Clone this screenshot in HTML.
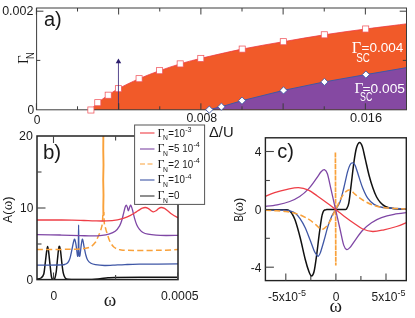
<!DOCTYPE html><html><head><meta charset="utf-8"><title>Figure</title>
<style>html,body{margin:0;padding:0;background:#fff;overflow:hidden}svg{display:block;will-change:transform}text{font-family:"Liberation Sans", sans-serif}.s{font-family:"Liberation Serif", serif}</style></head><body>
<svg width="415" height="318" viewBox="0 0 415 318" fill="#1a1a1a">
<rect width="415" height="318" fill="#fff"/>
<path d="M90.90 110.00 C92.05 108.78 94.92 105.17 97.80 102.70 C100.68 100.23 104.77 97.53 108.20 95.20 C111.63 92.87 113.25 91.45 118.40 88.70 C123.55 85.95 132.23 81.70 139.10 78.70 C145.97 75.70 152.75 73.17 159.60 70.70 C166.45 68.23 173.33 65.95 180.20 63.90 C187.07 61.85 190.47 60.87 200.80 58.40 C211.13 55.93 228.45 51.88 242.20 49.10 C255.95 46.32 269.62 44.08 283.30 41.70 C296.98 39.32 310.57 36.92 324.30 34.80 C338.03 32.68 351.95 30.83 365.70 29.00 C379.45 27.17 399.95 24.67 406.80 23.80 L406.50 109.80 Z" fill="#f15a29"/>
<path d="M90.90 110.00 C92.05 108.78 94.92 105.17 97.80 102.70 C100.68 100.23 104.77 97.53 108.20 95.20 C111.63 92.87 113.25 91.45 118.40 88.70 C123.55 85.95 132.23 81.70 139.10 78.70 C145.97 75.70 152.75 73.17 159.60 70.70 C166.45 68.23 173.33 65.95 180.20 63.90 C187.07 61.85 190.47 60.87 200.80 58.40 C211.13 55.93 228.45 51.88 242.20 49.10 C255.95 46.32 269.62 44.08 283.30 41.70 C296.98 39.32 310.57 36.92 324.30 34.80 C338.03 32.68 351.95 30.83 365.70 29.00 C379.45 27.17 399.95 24.67 406.80 23.80" fill="none" stroke="#ee3a43" stroke-width="0.8"/>
<path d="M209.30 109.60 L221.40 106.70 L242.00 100.70 L283.50 90.40 L324.40 81.90 L365.90 74.60 L406.80 67.60 L406.50 109.80 Z" fill="#8549a2"/>
<path d="M209.30 109.60 L221.40 106.70 L242.00 100.70 L283.50 90.40 L324.40 81.90 L365.90 74.60 L406.80 67.60" fill="none" stroke="#3f57a6" stroke-width="1"/>
<g stroke="#3c3c3c" stroke-width="1" fill="none">
<rect x="36.60" y="8.00" width="369.90" height="101.80"/>
<path d="M36.40 8.00 v6.50 M36.40 109.80 v-6.50"/>
<path d="M77.52 8.00 v3.50 M77.52 109.80 v-3.50"/>
<path d="M118.64 8.00 v6.50 M118.64 109.80 v-6.50"/>
<path d="M159.76 8.00 v3.50 M159.76 109.80 v-3.50"/>
<path d="M200.88 8.00 v6.50 M200.88 109.80 v-6.50"/>
<path d="M242.00 8.00 v3.50 M242.00 109.80 v-3.50"/>
<path d="M283.12 8.00 v6.50 M283.12 109.80 v-6.50"/>
<path d="M324.24 8.00 v3.50 M324.24 109.80 v-3.50"/>
<path d="M365.36 8.00 v6.50 M365.36 109.80 v-6.50"/>
<path d="M36.60 11.20 h6.80 M406.50 11.20 h-6.80"/>
<path d="M36.60 60.40 h3.70 M406.50 60.40 h-3.70"/>
</g>
<rect x="87.85" y="106.95" width="6.1" height="6.1" fill="#fff" stroke="#f0535a" stroke-width="0.75"/>
<rect x="94.75" y="99.65" width="6.1" height="6.1" fill="#fff" stroke="#f0535a" stroke-width="0.75"/>
<rect x="105.15" y="92.15" width="6.1" height="6.1" fill="#fff" stroke="#f0535a" stroke-width="0.75"/>
<rect x="115.35" y="85.65" width="6.1" height="6.1" fill="#fff" stroke="#f0535a" stroke-width="0.75"/>
<rect x="136.05" y="75.65" width="6.1" height="6.1" fill="#fff" stroke="#f0535a" stroke-width="0.75"/>
<rect x="156.55" y="67.65" width="6.1" height="6.1" fill="#fff" stroke="#f0535a" stroke-width="0.75"/>
<rect x="177.15" y="60.85" width="6.1" height="6.1" fill="#fff" stroke="#f0535a" stroke-width="0.75"/>
<rect x="197.75" y="55.35" width="6.1" height="6.1" fill="#fff" stroke="#f0535a" stroke-width="0.75"/>
<rect x="239.15" y="46.05" width="6.1" height="6.1" fill="#fff" stroke="#f0535a" stroke-width="0.75"/>
<rect x="280.25" y="38.65" width="6.1" height="6.1" fill="#fff" stroke="#f0535a" stroke-width="0.75"/>
<rect x="321.25" y="31.75" width="6.1" height="6.1" fill="#fff" stroke="#f0535a" stroke-width="0.75"/>
<rect x="362.65" y="25.95" width="6.1" height="6.1" fill="#fff" stroke="#f0535a" stroke-width="0.75"/>
<path d="M205.70 109.60 l3.60 -3.60 l3.60 3.60 l-3.60 3.60 Z" fill="#fff" stroke="#3f57a6" stroke-width="0.9"/>
<path d="M217.80 106.70 l3.60 -3.60 l3.60 3.60 l-3.60 3.60 Z" fill="#fff" stroke="#3f57a6" stroke-width="0.9"/>
<path d="M238.40 100.70 l3.60 -3.60 l3.60 3.60 l-3.60 3.60 Z" fill="#fff" stroke="#3f57a6" stroke-width="0.9"/>
<path d="M279.90 90.40 l3.60 -3.60 l3.60 3.60 l-3.60 3.60 Z" fill="#fff" stroke="#3f57a6" stroke-width="0.9"/>
<path d="M320.80 81.90 l3.60 -3.60 l3.60 3.60 l-3.60 3.60 Z" fill="#fff" stroke="#3f57a6" stroke-width="0.9"/>
<path d="M362.30 74.60 l3.60 -3.60 l3.60 3.60 l-3.60 3.60 Z" fill="#fff" stroke="#3f57a6" stroke-width="0.9"/>
<path d="M118.45 109.6 V62" stroke="#3a2a7c" stroke-width="0.85" fill="none"/>
<path d="M118.45 58.4 L121.2 63.2 L115.7 63.2 Z" fill="#2e1f6e"/>
<path d="M118.64 109.8 v-6.5" stroke="#3c3c3c" stroke-width="1"/>
<text x="33.40" y="14.70" font-size="12" text-anchor="end" textLength="31.2" lengthAdjust="spacingAndGlyphs">0.002</text>
<text x="34.20" y="113.50" font-size="12" text-anchor="end">0</text>
<text x="37.00" y="123.60" font-size="12" text-anchor="middle">0</text>
<text x="201.80" y="121.70" font-size="12" text-anchor="middle" textLength="30.8" lengthAdjust="spacingAndGlyphs">0.008</text>
<text x="366.00" y="122.30" font-size="12" text-anchor="middle" textLength="32" lengthAdjust="spacingAndGlyphs">0.016</text>
<text x="209.00" y="137.00" font-size="15.3" text-anchor="start" textLength="24.6" lengthAdjust="spacingAndGlyphs">Δ/U</text>
<text x="43.90" y="26.40" font-size="20" text-anchor="start">a)</text>
<g transform="translate(27.8,63.9) rotate(-90)"><text x="0" y="0" font-size="15" class="s">Γ</text><text x="5.0" y="6.3" font-size="11.8" textLength="6.8" lengthAdjust="spacingAndGlyphs">N</text></g>
<g fill="#fff"><text x="351.80" y="53.40" font-size="16.3" class="s" fill="#fff">Γ</text><text x="356.30" y="61.50" font-size="12" fill="#fff" textLength="13.6" lengthAdjust="spacingAndGlyphs">SC</text><text x="361.60" y="51.90" font-size="12.3" fill="#fff" textLength="41.8" lengthAdjust="spacingAndGlyphs">=0.004</text></g>
<g fill="#fff"><text x="354.40" y="93.00" font-size="15.3" class="s" fill="#fff">Γ</text><text x="360.10" y="101.00" font-size="12" fill="#fff" textLength="12.2" lengthAdjust="spacingAndGlyphs">SC</text><text x="362.60" y="92.50" font-size="12.3" fill="#fff" textLength="42.4" lengthAdjust="spacingAndGlyphs">=0.005</text></g>
<clipPath id="cb"><rect x="37.00" y="136.00" width="141.00" height="143.60"/></clipPath>
<g clip-path="url(#cb)" fill="none" stroke-width="1.3" stroke-linejoin="round">
<path d="M37.00 279.00 C37.67 278.83 39.88 278.78 41.00 278.00 C42.12 277.22 43.00 276.73 43.70 274.30 C44.40 271.87 44.73 267.05 45.20 263.40 C45.67 259.75 46.10 255.23 46.50 252.40 C46.90 249.57 47.23 246.40 47.60 246.40 C47.97 246.40 48.28 249.22 48.70 252.40 C49.12 255.58 49.65 261.48 50.10 265.50 C50.55 269.52 51.00 274.22 51.40 276.50 C51.80 278.78 52.13 278.72 52.50 279.20 C52.87 279.68 53.23 279.48 53.60 279.40 C53.97 279.32 54.27 279.93 54.70 278.70 C55.13 277.47 55.73 275.28 56.20 272.00 C56.67 268.72 57.10 262.83 57.50 259.00 C57.90 255.17 58.27 251.10 58.60 249.00 C58.93 246.90 59.17 246.02 59.50 246.40 C59.83 246.78 60.20 248.47 60.60 251.30 C61.00 254.13 61.45 259.75 61.90 263.40 C62.35 267.05 62.78 270.83 63.30 273.20 C63.82 275.57 64.23 276.60 65.00 277.60 C65.77 278.60 65.40 278.88 67.90 279.20 C70.40 279.52 75.98 279.47 80.00 279.50 C84.02 279.53 88.67 279.53 92.00 279.40 C95.33 279.27 97.33 278.97 100.00 278.70 C102.67 278.43 105.50 278.02 108.00 277.80 C110.50 277.58 109.67 277.48 115.00 277.40 C120.33 277.32 129.50 277.32 140.00 277.30 C150.50 277.28 171.67 277.30 178.00 277.30" stroke="#111" stroke-width="1.5"/>
<path d="M37.00 265.10 C39.17 265.10 46.50 265.12 50.00 265.10 C53.50 265.08 55.93 265.05 58.00 265.00 C60.07 264.95 61.30 264.88 62.40 264.80 C63.50 264.72 63.87 264.70 64.60 264.50 C65.33 264.30 66.15 264.08 66.80 263.60 C67.45 263.12 67.95 262.55 68.50 261.60 C69.05 260.65 69.55 259.80 70.10 257.90 C70.65 256.00 71.25 252.77 71.80 250.20 C72.35 247.63 72.92 244.33 73.40 242.50 C73.88 240.67 74.27 238.83 74.70 239.20 C75.13 239.57 75.57 242.13 76.00 244.70 C76.43 247.27 76.98 252.73 77.30 254.60 C77.62 256.47 77.73 256.67 77.90 255.90 C78.07 255.13 78.18 255.15 78.30 250.00 C78.42 244.85 78.50 225.00 78.60 225.00 C78.70 225.00 78.77 244.85 78.90 250.00 C79.03 255.15 79.20 255.13 79.40 255.90 C79.60 256.67 79.78 256.47 80.10 254.60 C80.42 252.73 80.90 247.27 81.30 244.70 C81.70 242.13 82.07 239.02 82.50 239.20 C82.93 239.38 83.37 243.23 83.90 245.80 C84.43 248.37 85.08 252.23 85.70 254.60 C86.32 256.97 86.73 258.57 87.60 260.00 C88.47 261.43 89.60 262.43 90.90 263.20 C92.20 263.97 93.13 264.22 95.40 264.60 C97.67 264.98 101.57 265.40 104.50 265.50 C107.43 265.60 109.58 265.35 113.00 265.20 C116.42 265.05 120.62 264.77 125.00 264.60 C129.38 264.43 130.47 264.32 139.30 264.20 C148.13 264.08 171.55 263.95 178.00 263.90" stroke="#3f57a6"/>
<path d="M103.35 136 L103.25 150 L103.5 165 L103.2 180 L103.5 195 L103.3 207 L103.4 216" stroke="#f9a13a" stroke-width="1.9"/>
<path d="M103.80 212.00 C103.83 213.00 103.90 216.03 104.00 218.00 C104.10 219.97 104.23 222.40 104.40 223.80 C104.57 225.20 104.78 225.57 105.00 226.40 C105.22 227.23 105.47 227.98 105.70 228.80 C105.93 229.62 106.13 230.47 106.40 231.30 C106.67 232.13 106.85 232.43 107.30 233.80 C107.75 235.17 108.43 237.82 109.10 239.50 C109.77 241.18 110.52 242.65 111.30 243.90 C112.08 245.15 112.75 246.12 113.80 247.00 C114.85 247.88 116.43 248.72 117.60 249.20 C118.77 249.68 119.37 249.72 120.80 249.90 C122.23 250.08 123.12 250.22 126.20 250.30 C129.28 250.38 133.67 250.40 139.30 250.40 C144.93 250.40 153.55 250.43 160.00 250.30 C166.45 250.17 175.00 249.72 178.00 249.60" stroke="#f9a13a" stroke-width="1.5" stroke-dasharray="6 3.2" stroke-dashoffset="3"/>
<path d="M37.00 249.50 C40.83 249.48 53.67 249.45 60.00 249.40 C66.33 249.35 70.93 249.33 75.00 249.20 C79.07 249.07 81.73 249.03 84.40 248.60 C87.07 248.17 89.17 247.65 91.00 246.60 C92.83 245.55 94.33 243.70 95.40 242.30 C96.47 240.90 96.82 239.43 97.40 238.20 C97.98 236.97 98.47 235.87 98.90 234.90 C99.33 233.93 99.65 233.32 100.00 232.40 C100.35 231.48 100.70 230.40 101.00 229.40 C101.30 228.40 101.58 227.33 101.80 226.40 C102.02 225.47 102.15 225.20 102.30 223.80 C102.45 222.40 102.60 219.97 102.70 218.00 C102.80 216.03 102.87 213.00 102.90 212.00" stroke="#f9a13a" stroke-width="1.5" stroke-dasharray="6 3.2"/>
<path d="M37.00 234.60 C40.83 234.67 52.83 234.83 60.00 235.00 C67.17 235.17 74.47 235.45 80.00 235.60 C85.53 235.75 89.53 235.95 93.20 235.90 C96.87 235.85 99.43 235.60 102.00 235.30 C104.57 235.00 106.40 234.77 108.60 234.10 C110.80 233.43 113.37 232.68 115.20 231.30 C117.03 229.92 118.50 227.63 119.60 225.80 C120.70 223.97 121.15 222.32 121.80 220.30 C122.45 218.28 122.95 215.87 123.50 213.70 C124.05 211.53 124.65 208.72 125.10 207.30 C125.55 205.88 125.83 205.23 126.20 205.20 C126.57 205.17 126.93 206.17 127.30 207.10 C127.67 208.03 128.00 210.80 128.40 210.80 C128.80 210.80 129.30 208.03 129.70 207.10 C130.10 206.17 130.37 204.83 130.80 205.20 C131.23 205.57 131.68 207.15 132.30 209.30 C132.92 211.45 133.77 215.53 134.50 218.10 C135.23 220.67 135.90 222.87 136.70 224.70 C137.50 226.53 138.25 227.80 139.30 229.10 C140.35 230.40 141.55 231.65 143.00 232.50 C144.45 233.35 145.83 233.75 148.00 234.20 C150.17 234.65 153.00 234.98 156.00 235.20 C159.00 235.42 162.33 235.48 166.00 235.50 C169.67 235.52 176.00 235.33 178.00 235.30" stroke="#7f47a5"/>
<path d="M37.00 220.00 C40.83 220.00 54.17 219.98 60.00 220.00 C65.83 220.02 68.00 220.02 72.00 220.10 C76.00 220.18 80.17 220.37 84.00 220.50 C87.83 220.63 91.27 220.83 95.00 220.90 C98.73 220.97 102.67 221.08 106.40 220.90 C110.13 220.72 114.47 220.27 117.40 219.80 C120.33 219.33 121.82 218.83 124.00 218.10 C126.18 217.37 128.50 216.40 130.50 215.40 C132.50 214.40 134.53 213.02 136.00 212.10 C137.47 211.18 138.25 210.55 139.30 209.90 C140.35 209.25 141.32 208.60 142.30 208.20 C143.28 207.80 144.17 207.43 145.20 207.50 C146.23 207.57 147.53 208.08 148.50 208.60 C149.47 209.12 150.18 210.07 151.00 210.60 C151.82 211.13 152.57 211.77 153.40 211.80 C154.23 211.83 155.15 211.33 156.00 210.80 C156.85 210.27 157.63 209.15 158.50 208.60 C159.37 208.05 160.20 207.53 161.20 207.50 C162.20 207.47 163.37 207.82 164.50 208.40 C165.63 208.98 166.75 210.02 168.00 211.00 C169.25 211.98 170.33 213.17 172.00 214.30 C173.67 215.43 177.00 217.22 178.00 217.80" stroke="#ee3e46"/>
</g>
<g stroke="#222" stroke-width="1.5" fill="none">
<rect x="37.00" y="136.00" width="141.00" height="143.60"/>
</g><g stroke="#444" stroke-width="1.1" fill="none">
<path d="M53.50 136.00 v7.00 M53.50 279.60 v-7.00"/>
<path d="M115.60 136.00 v4.50 M115.60 279.60 v-4.50"/>
<path d="M177.60 136.00 v7.00 M177.60 279.60 v-7.00"/>
<path d="M37.00 172.00 h4.50"/>
<path d="M37.00 208.00 h8.50"/>
<path d="M37.00 244.00 h4.50"/>
</g>
<text x="32.90" y="140.20" font-size="12.3" text-anchor="end" textLength="13.8" lengthAdjust="spacingAndGlyphs">20</text>
<text x="33.30" y="212.20" font-size="12.3" text-anchor="end" textLength="13.3" lengthAdjust="spacingAndGlyphs">10</text>
<text x="33.30" y="283.60" font-size="12" text-anchor="end">0</text>
<text x="53.80" y="300.00" font-size="12" text-anchor="middle">0</text>
<text x="179.80" y="300.00" font-size="12" text-anchor="middle" textLength="37.5" lengthAdjust="spacingAndGlyphs">0.0005</text>
<text x="110" y="306.4" font-size="19" class="s" text-anchor="middle">ω</text>
<g transform="translate(11.8,222.9) rotate(-90)"><text x="0" y="0" font-size="13" textLength="12.2" lengthAdjust="spacingAndGlyphs">A(</text><text x="12.6" y="0" font-size="14.5" class="s">ω</text><text x="22.2" y="0" font-size="13">)</text></g>
<text x="42.90" y="158.80" font-size="20.5" text-anchor="start">b)</text>
<rect x="134.6" y="125" width="70" height="79.4" fill="#fff" stroke="#555" stroke-width="1"/>
<path d="M140 133.00 H154.5" stroke="#ee3e46" stroke-width="1.1"/>
<text x="157.5" y="136.60" font-size="12" class="s">Γ</text><text x="163.0" y="140.40" font-size="7.8" textLength="4.9" lengthAdjust="spacingAndGlyphs">N</text><text x="168.3" y="136.50" font-size="10.3" textLength="16.6" lengthAdjust="spacingAndGlyphs">=10</text>
<text x="185.20" y="131.70" font-size="7.2">-3</text>
<path d="M140 149.00 H154.5" stroke="#7f47a5" stroke-width="1.1"/>
<text x="157.5" y="152.10" font-size="12" class="s">Γ</text><text x="163.0" y="155.90" font-size="7.8" textLength="4.9" lengthAdjust="spacingAndGlyphs">N</text><text x="168.3" y="152.00" font-size="10.3" textLength="24.8" lengthAdjust="spacingAndGlyphs">=5 10</text>
<text x="193.40" y="147.20" font-size="7.2">-4</text>
<path d="M140 164.00 H154.5" stroke="#f9a13a" stroke-width="1.1" stroke-dasharray="5 2.5"/>
<text x="157.5" y="167.80" font-size="12" class="s">Γ</text><text x="163.0" y="171.60" font-size="7.8" textLength="4.9" lengthAdjust="spacingAndGlyphs">N</text><text x="168.3" y="167.70" font-size="10.3" textLength="24.8" lengthAdjust="spacingAndGlyphs">=2 10</text>
<text x="193.40" y="162.90" font-size="7.2">-4</text>
<path d="M140 180.00 H154.5" stroke="#3f57a6" stroke-width="1.1"/>
<text x="157.5" y="183.40" font-size="12" class="s">Γ</text><text x="163.0" y="187.20" font-size="7.8" textLength="4.9" lengthAdjust="spacingAndGlyphs">N</text><text x="168.3" y="183.30" font-size="10.3" textLength="16.6" lengthAdjust="spacingAndGlyphs">=10</text>
<text x="185.20" y="178.50" font-size="7.2">-4</text>
<path d="M140 196.00 H154.5" stroke="#333" stroke-width="1.1"/>
<text x="157.5" y="199.30" font-size="12" class="s">Γ</text><text x="163.0" y="203.10" font-size="7.8" textLength="4.9" lengthAdjust="spacingAndGlyphs">N</text><text x="168.3" y="199.20" font-size="10.3" textLength="11.2" lengthAdjust="spacingAndGlyphs">=0</text>
<clipPath id="cc"><rect x="265.40" y="137.80" width="140.90" height="142.80"/></clipPath>
<g clip-path="url(#cc)" fill="none" stroke-width="1.3" stroke-linejoin="round">
<path d="M264.60 209.70 C267.27 209.70 277.02 209.68 280.60 209.70 C284.18 209.72 284.73 209.68 286.10 209.80 C287.47 209.92 287.85 209.80 288.80 210.40 C289.75 211.00 290.75 211.78 291.80 213.40 C292.85 215.02 293.70 216.03 295.10 220.10 C296.50 224.17 298.52 231.28 300.20 237.80 C301.88 244.32 303.73 253.53 305.20 259.20 C306.67 264.87 307.95 269.00 309.00 271.80 C310.05 274.60 310.67 276.00 311.50 276.00 C312.33 276.00 313.15 275.23 314.00 271.80 C314.85 268.37 315.75 261.50 316.60 255.40 C317.45 249.30 318.27 241.50 319.10 235.20 C319.93 228.90 320.92 221.50 321.60 217.60 C322.28 213.70 322.70 213.07 323.20 211.80 C323.70 210.53 324.03 210.37 324.60 210.00 C325.17 209.63 325.60 209.67 326.60 209.60 C327.60 209.53 329.10 209.60 330.60 209.60 C332.10 209.60 333.93 209.60 335.60 209.60 C337.27 209.60 339.10 209.62 340.60 209.60 C342.10 209.58 343.60 209.63 344.60 209.50 C345.60 209.37 345.90 209.87 346.60 208.80 C347.30 207.73 348.05 207.02 348.80 203.10 C349.55 199.18 350.23 192.20 351.10 185.30 C351.97 178.40 353.10 167.95 354.00 161.70 C354.90 155.45 355.58 150.98 356.50 147.80 C357.42 144.62 358.53 142.80 359.50 142.60 C360.47 142.40 361.33 143.83 362.30 146.60 C363.27 149.37 364.17 154.38 365.30 159.20 C366.43 164.02 367.83 170.70 369.10 175.50 C370.37 180.30 371.65 184.42 372.90 188.00 C374.15 191.58 375.35 194.60 376.60 197.00 C377.85 199.40 378.93 200.82 380.40 202.40 C381.87 203.98 383.30 205.48 385.40 206.50 C387.50 207.52 389.47 208.05 393.00 208.50 C396.53 208.95 404.33 209.08 406.60 209.20" stroke="#111" stroke-width="1.5"/>
<path d="M264.60 209.90 C267.77 209.95 279.27 209.98 283.60 210.20 C287.93 210.42 288.60 210.63 290.60 211.20 C292.60 211.77 294.00 212.32 295.60 213.60 C297.20 214.88 298.60 216.55 300.20 218.90 C301.80 221.25 303.53 224.13 305.20 227.70 C306.87 231.27 308.73 236.52 310.20 240.30 C311.67 244.08 312.93 247.97 314.00 250.40 C315.07 252.83 315.88 253.93 316.60 254.90 C317.32 255.87 317.68 256.53 318.30 256.20 C318.92 255.87 319.33 255.55 320.30 252.90 C321.27 250.25 322.83 244.72 324.10 240.30 C325.37 235.88 326.63 230.40 327.90 226.40 C329.17 222.40 330.42 219.10 331.70 216.30 C332.98 213.50 334.22 211.98 335.60 209.60 C336.98 207.22 338.63 205.60 340.00 202.00 C341.37 198.40 342.53 193.05 343.80 188.00 C345.07 182.95 346.55 175.58 347.60 171.70 C348.65 167.82 349.27 166.17 350.10 164.70 C350.93 163.23 351.75 162.78 352.60 162.90 C353.45 163.02 354.15 163.08 355.20 165.40 C356.25 167.72 357.65 173.03 358.90 176.80 C360.15 180.57 361.23 184.43 362.70 188.00 C364.17 191.57 365.82 195.47 367.70 198.20 C369.58 200.93 371.48 202.85 374.00 204.40 C376.52 205.95 377.53 206.73 382.80 207.50 C388.07 208.27 401.80 208.75 405.60 209.00" stroke="#3f57a6"/>
<path d="M335.40 152.4 L335.80 265.6" stroke="#f9a13a" stroke-dasharray="5 0.8" stroke-width="1.7"/>
<path d="M265.60 210.20 C268.98 210.42 280.43 210.83 285.90 211.50 C291.37 212.17 294.63 212.92 298.40 214.20 C302.17 215.48 305.57 217.43 308.50 219.20 C311.43 220.97 314.15 223.30 316.00 224.80 C317.85 226.30 318.57 227.47 319.60 228.20 C320.63 228.93 321.37 229.22 322.20 229.20 C323.03 229.18 323.70 228.78 324.60 228.10 C325.50 227.42 326.50 226.60 327.60 225.10 C328.70 223.60 330.20 221.02 331.20 219.10 C332.20 217.18 332.87 215.18 333.60 213.60 C334.33 212.02 334.93 210.93 335.60 209.60 C336.27 208.27 336.87 207.18 337.60 205.60 C338.33 204.02 339.00 202.02 340.00 200.10 C341.00 198.18 342.50 195.60 343.60 194.10 C344.70 192.60 345.70 191.78 346.60 191.10 C347.50 190.42 348.17 190.02 349.00 190.00 C349.83 189.98 350.57 190.27 351.60 191.00 C352.63 191.73 353.35 192.90 355.20 194.40 C357.05 195.90 359.77 198.23 362.70 200.00 C365.63 201.77 369.03 203.72 372.80 205.00 C376.57 206.28 379.83 207.03 385.30 207.70 C390.77 208.37 402.22 208.78 405.60 209.00" stroke="#f9a13a" stroke-width="1.5" stroke-dasharray="5.8 3"/>
<path d="M264.60 206.50 C266.68 206.22 272.92 205.63 277.10 204.80 C281.28 203.97 285.93 202.88 289.70 201.50 C293.47 200.12 296.57 198.60 299.70 196.50 C302.83 194.40 305.77 191.83 308.50 188.90 C311.23 185.97 314.00 181.75 316.10 178.90 C318.20 176.05 319.72 173.35 321.10 171.80 C322.48 170.25 323.35 169.27 324.40 169.60 C325.45 169.93 326.27 170.37 327.40 173.80 C328.53 177.23 329.83 184.23 331.20 190.20 C332.57 196.17 334.13 203.13 335.60 209.60 C337.07 216.07 338.63 223.03 340.00 229.00 C341.37 234.97 342.67 241.97 343.80 245.40 C344.93 248.83 345.75 249.27 346.80 249.60 C347.85 249.93 348.72 248.95 350.10 247.40 C351.48 245.85 353.00 243.15 355.10 240.30 C357.20 237.45 359.97 233.23 362.70 230.30 C365.43 227.37 368.37 224.80 371.50 222.70 C374.63 220.60 377.73 219.08 381.50 217.70 C385.27 216.32 389.92 215.23 394.10 214.40 C398.28 213.57 404.52 212.98 406.60 212.70" stroke="#7f47a5"/>
<path d="M264.60 196.60 C266.27 195.95 270.83 193.90 274.60 192.70 C278.37 191.50 283.22 190.23 287.20 189.40 C291.18 188.57 294.95 187.57 298.50 187.70 C302.05 187.83 305.37 188.82 308.50 190.20 C311.63 191.58 314.15 193.82 317.30 196.00 C320.45 198.18 324.35 201.03 327.40 203.30 C330.45 205.57 332.87 207.50 335.60 209.60 C338.33 211.70 340.75 213.63 343.80 215.90 C346.85 218.17 350.75 221.02 353.90 223.20 C357.05 225.38 359.57 227.62 362.70 229.00 C365.83 230.38 369.15 231.37 372.70 231.50 C376.25 231.63 380.02 230.63 384.00 229.80 C387.98 228.97 392.83 227.70 396.60 226.50 C400.37 225.30 404.93 223.25 406.60 222.60" stroke="#ee3e46"/>
</g>
<g stroke="#222" stroke-width="1.4" fill="none">
<rect x="265.40" y="137.80" width="140.90" height="142.80"/>
</g><g stroke="#444" stroke-width="1.1" fill="none">
<path d="M285.80 280.60 v-7.00"/>
<path d="M310.80 280.60 v-4.50"/>
<path d="M335.90 280.60 v-7.00"/>
<path d="M360.90 280.60 v-4.50"/>
<path d="M386.00 280.60 v-7.00"/>
<path d="M265.40 151.50 h8.50"/>
<path d="M265.40 180.50 h4.50"/>
<path d="M265.40 209.50 h8.50"/>
<path d="M265.40 238.30 h4.50"/>
<path d="M265.40 267.20 h8.50"/>
</g>
<text x="261.50" y="155.70" font-size="12" text-anchor="end">4</text>
<text x="261.50" y="213.80" font-size="12" text-anchor="end">0</text>
<text x="261.50" y="271.50" font-size="12" text-anchor="end">-4</text>
<text x="268" y="301" font-size="12">-5x10<tspan font-size="9" dy="-5.5">-5</tspan></text>
<text x="336.00" y="301.00" font-size="12" text-anchor="middle">0</text>
<text x="371.5" y="301" font-size="12">5x10<tspan font-size="9" dy="-5.5">-5</tspan></text>
<text x="335.8" y="311.6" font-size="19" class="s" text-anchor="middle">ω</text>
<g transform="translate(243.0,221.6) rotate(-90)"><text x="0" y="0" font-size="13" textLength="9.7" lengthAdjust="spacingAndGlyphs">B(</text><text x="10.1" y="0" font-size="14.5" class="s">ω</text><text x="19.6" y="0" font-size="13">)</text></g>
<text x="277.20" y="158.10" font-size="20" text-anchor="start">c)</text>
</svg></body></html>
